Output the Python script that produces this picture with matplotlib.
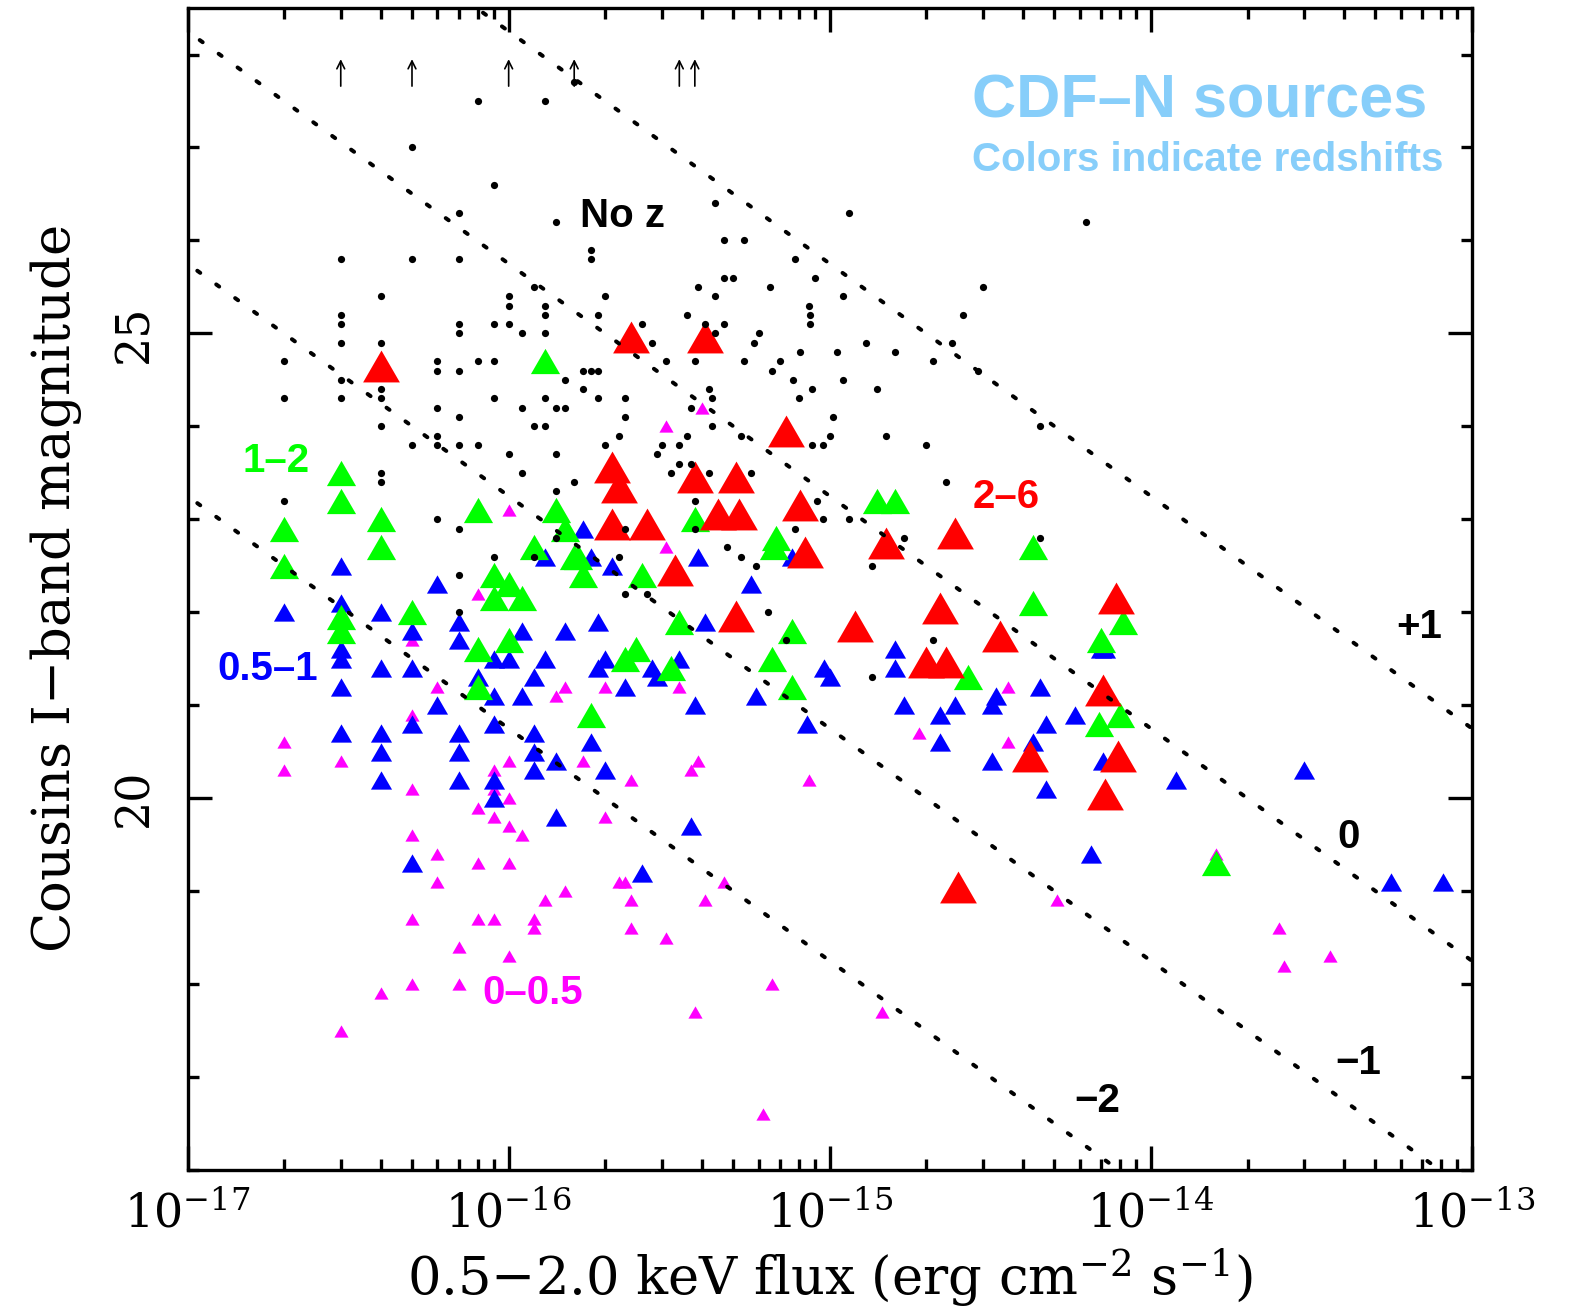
import numpy as np
import matplotlib
matplotlib.use("Agg")
import matplotlib.pyplot as plt
from matplotlib.ticker import FixedLocator, NullFormatter, LogLocator

# ---- data: (0.5-2 keV flux, Cousins I magnitude) ----
dot_flux = [8e-17, 5e-17, 9e-17, 7e-17, 3e-17, 5e-17, 7e-17, 4e-17, 1e-16, 1e-16, 3e-17, 3e-17, 7e-17, 9e-17,
            1e-16, 1.1e-16, 7e-17, 3e-17, 4e-17, 2e-17, 6e-17, 8e-17, 9e-17, 6e-17, 7e-17, 3e-17, 4e-17, 2e-17,
            3e-17, 4e-17, 9e-17,
            1.1e-16, 6e-17, 7e-17, 4e-17, 6e-17, 6e-17, 5e-17, 7e-17, 8e-17, 1e-16, 1.1e-16, 4e-17, 4e-17, 2e-17,
            6e-17, 7e-17, 9e-17, 7e-17, 7e-17,
            1.5e-16, 1.7e-16, 1.9e-16, 2.3e-16, 2.3e-16, 1.3e-16, 1.4e-16, 1.5e-16, 1.2e-16, 1.3e-16, 2.2e-16,
            2e-16, 1.4e-16, 1.6e-16, 1.4e-16,
            4.2e-16, 4.3e-16, 3.7e-16, 4.3e-16, 3.6e-16, 3e-16, 3.4e-16, 2.9e-16, 3.2e-16, 3.4e-16, 3.7e-16,
            4.2e-16, 5.7e-16, 5.3e-16,
            7.7e-16, 8.8e-16, 8e-16, 1.02e-15, 8.8e-16, 9.5e-16, 1e-15, 9.1e-16, 9.5e-16, 7.8e-16, 3.8e-16,
            3.8e-16, 2.3e-16, 1.4e-16, 1.2e-16, 2.2e-16, 4.8e-16, 5.3e-16, 5.9e-16, 2.3e-16, 2.7e-16, 6.4e-16,
            7.3e-16,
            1.3e-16, 1.6e-16, 1.4e-16, 4.4e-16, 4.7e-16, 5.4e-16, 1.8e-16, 1.8e-16, 7.8e-16, 9e-16, 4.7e-16,
            5e-16, 3.9e-16, 6.5e-16, 4.4e-16, 1.2e-16, 2e-16, 1.3e-16, 1.3e-16, 1.9e-16, 3.6e-16, 8.6e-16,
            8.7e-16, 8.7e-16, 1.3e-16, 2.6e-16, 4.7e-16, 4.1e-16, 4.4e-16, 2.8e-16, 6e-16, 5.8e-16, 8.1e-16,
            1.05e-15, 3.1e-16, 3.8e-16, 5.4e-16, 7e-16, 6.6e-16, 1.7e-16, 1.8e-16, 1.9e-16,
            1.15e-15, 6.3e-15, 3e-15, 2.6e-15, 1.1e-15, 1.3e-15, 1.6e-15, 2.4e-15, 2.1e-15, 2.9e-15, 1.1e-15,
            1.4e-15,
            1.5e-15, 2e-15, 4.5e-15, 2.3e-15, 1.15e-15, 1.7e-15, 1.35e-15, 4.5e-15, 2.1e-15, 1.35e-15]
dot_mag = [27.5, 27.0, 26.6, 26.3, 25.8, 25.8, 25.8, 25.4, 25.4, 25.3, 25.2, 25.1, 25.1, 25.1,
           25.1, 25.0, 25.0, 24.9, 24.9, 24.7, 24.7, 24.7, 24.7, 24.6, 24.6, 24.5, 24.4, 24.3,
           24.3, 24.3, 24.3,
           24.2, 24.2, 24.1, 24.0, 23.9, 23.8, 23.8, 23.8, 23.8, 23.7, 23.5, 23.5, 23.4, 23.2,
           23.0, 22.9, 22.6, 22.4, 22.0,
           24.5, 24.4, 24.3, 24.3, 24.1, 24.3, 24.2, 24.2, 24.0, 24.0, 23.9,
           23.8, 23.7, 23.4, 23.3,
           24.4, 24.3, 24.2, 24.0, 23.9, 23.8, 23.8, 23.7, 23.5, 23.6, 23.6,
           23.5, 23.5, 23.9,
           24.5, 24.4, 24.3, 24.1, 23.8, 23.8, 23.9, 23.2, 23.0, 22.9, 23.2,
           22.9, 22.9, 22.8, 22.6, 22.6, 22.7, 22.6, 22.5, 22.2, 22.2, 22.0,
           21.7,
           27.5, 27.7, 26.2, 26.4, 26.0, 26.0, 25.9, 25.8, 25.8, 25.6, 25.6,
           25.6, 25.5, 25.5, 25.4, 25.5, 25.4, 25.3, 25.2, 25.2, 25.2, 25.3,
           25.2, 25.1, 25.0, 25.1, 25.1, 25.1, 25.0, 24.9, 25.0, 24.9, 24.8,
           24.8, 24.7, 24.7, 24.7, 24.7, 24.6, 24.6, 24.6, 24.6,
           26.3, 26.2, 25.5, 25.2, 25.4, 24.9, 24.8, 24.9, 24.7, 24.6, 24.5,
           24.4,
           23.9, 23.8, 24.0, 23.4, 23.0, 22.8, 22.5, 22.8, 21.7, 21.3]

z0_flux = [1e-16, 8e-17, 5e-17, 6e-17, 5e-17, 2e-17, 2e-17, 3e-17, 1e-16, 9e-17,
           5e-17, 9e-17, 1e-16, 8e-17, 9e-17, 1e-16, 1.1e-16, 5e-17, 6e-17, 8e-17, 1e-16, 6e-17, 5e-17, 8e-17,
           9e-17, 7e-17, 1e-16, 5e-17, 7e-17, 4e-17, 3e-17,
           4e-16, 3.1e-16, 3.1e-16, 1.5e-16, 1.4e-16, 2e-16, 3.4e-16, 1.7e-16, 3.9e-16, 3.7e-16, 8.6e-16, 2.4e-16,
           2e-16, 2.2e-16, 2.3e-16, 4.7e-16, 1.5e-16, 1.3e-16, 2.4e-16, 4.1e-16, 1.2e-16, 1.2e-16, 2.4e-16,
           3.1e-16, 6.6e-16, 3.8e-16, 6.2e-16,
           3.6e-15, 1.9e-15, 3.6e-15, 5.1e-15, 1.45e-15, 1.6e-14, 2.5e-14, 2.6e-14, 3.6e-14]
z0_mag = [23.1, 22.2, 21.7, 21.2, 20.9, 20.6, 20.3, 20.4, 20.4, 20.3,
          20.1, 20.1, 20.0, 19.9, 19.8, 19.7, 19.6, 19.6, 19.4, 19.3, 19.3, 19.1, 18.7, 18.7,
          18.7, 18.4, 18.3, 18.0, 18.0, 17.9, 17.5,
          24.2, 24.0, 22.7, 21.2, 21.1, 21.2, 21.2, 20.4, 20.4, 20.3, 20.2, 20.2,
          19.8, 19.1, 19.1, 19.1, 19.0, 18.9, 18.9, 18.9, 18.7, 18.6, 18.6,
          18.5, 18.0, 17.7, 16.6,
          21.2, 20.7, 20.6, 18.9, 17.7, 19.4, 18.6, 18.2, 18.3]

z1_flux = [3e-17, 6e-17, 2e-17, 3e-17, 4e-17, 5e-17, 7e-17, 7e-17, 3e-17, 3e-17, 4e-17, 5e-17, 3e-17,
           9e-17, 1e-16, 6e-17, 8e-17, 9e-17, 1.1e-16, 9e-17, 5e-17, 3e-17, 4e-17, 7e-17, 4e-17, 7e-17,
           4e-17, 7e-17, 9e-17, 9e-17, 5e-17,
           1.7e-16, 1.3e-16, 1.8e-16, 2.1e-16, 3.9e-16, 5.7e-16, 7.6e-16, 1.9e-16, 1.5e-16, 1.1e-16, 4.1e-16,
           1.3e-16, 1.9e-16, 2e-16, 2.8e-16, 2.9e-16, 3.4e-16, 1.2e-16, 2.3e-16, 3.8e-16, 5.9e-16, 9.6e-16,
           1e-15, 8.5e-16, 1.2e-16, 1.2e-16, 1.4e-16, 1.8e-16, 2e-16, 1.2e-16,
           1.4e-16, 3.7e-16, 2.6e-16,
           1.6e-15, 1.6e-15, 1.7e-15, 2.2e-15, 2.45e-15, 3.3e-15, 3.2e-15, 4.5e-15, 5.8e-15, 7e-15, 7.2e-15,
           4.7e-15, 2.2e-15, 4.3e-15, 3.2e-15, 7.1e-15,
           4.7e-15, 6.5e-15, 1.2e-14, 3e-14, 5.6e-14, 8.1e-14]
z1_mag = [22.5, 22.3, 22.0, 22.1, 22.0, 21.8, 21.9, 21.7, 21.6, 21.5, 21.4, 21.4, 21.2,
          21.5, 21.5, 21.0, 21.3, 21.1, 21.1, 20.8, 20.8, 20.7, 20.7, 20.7, 20.5, 20.5,
          20.2, 20.2, 20.2, 20.0, 19.3,
          22.9, 22.6, 22.6, 22.5, 22.6, 22.3, 22.6, 21.9, 21.8, 21.8, 21.9,
          21.5, 21.4, 21.5, 21.4, 21.3, 21.5, 21.3, 21.2, 21.0, 21.1, 21.4,
          21.3, 20.8, 20.7, 20.5, 20.4, 20.6, 20.3, 20.3,
          19.8, 19.7, 19.2,
          21.6, 21.4, 21.0, 20.9, 21.0, 21.1, 21.0, 21.2, 20.9, 21.6, 21.6,
          20.8, 20.6, 20.6, 20.4, 20.4,
          20.1, 19.4, 20.2, 20.3, 19.1, 19.1]

z2_flux = [3e-17, 3e-17, 2e-17, 2e-17, 4e-17, 4e-17, 8e-17, 3e-17, 3e-17, 5e-17, 8e-17, 1e-16, 8e-17,
           9e-17, 1e-16, 9e-17, 1.1e-16, 1.3e-16,
           1.4e-16, 1.5e-16, 1.2e-16, 1.6e-16, 1.65e-16, 1.7e-16, 3.8e-16, 2.6e-16, 6.8e-16, 6.7e-16, 3.4e-16,
           7.6e-16, 2.5e-16, 2.3e-16, 3.2e-16, 6.6e-16, 7.6e-16, 1.8e-16,
           1.4e-15, 1.6e-15, 4.3e-15, 4.3e-15, 8.2e-15, 7e-15, 2.7e-15, 6.9e-15, 8e-15, 1.6e-14]
z2_mag = [23.5, 23.2, 22.9, 22.5, 23.0, 22.7, 23.1, 21.95, 21.8, 22.0, 21.6, 21.7, 21.2,
          22.4, 22.3, 22.15, 22.15, 24.7,
          23.1, 22.9, 22.7, 22.6, 22.6, 22.4, 23.0, 22.4, 22.8, 22.7, 21.9,
          21.8, 21.6, 21.5, 21.4, 21.5, 21.2, 20.9,
          23.2, 23.2, 22.7, 22.1, 21.9, 21.7, 21.3, 20.8, 20.9, 19.3]

z3_flux = [4e-17, 2.4e-16, 4.1e-16, 7.3e-16, 2.1e-16, 2.2e-16, 3.8e-16, 5.1e-16, 8.1e-16, 2.1e-16, 2.7e-16,
           4.5e-16, 5.2e-16, 8.4e-16, 3.3e-16, 5.1e-16, 2.45e-15, 1.5e-15, 2.2e-15, 1.2e-15, 7.8e-15, 3.4e-15,
           2e-15, 2.3e-15, 7.1e-15, 4.2e-15, 7.9e-15, 7.2e-15, 2.5e-15]
z3_mag = [24.65, 24.96, 24.96, 23.95, 23.56, 23.35, 23.45, 23.45, 23.15, 22.95, 22.95,
          23.06, 23.06, 22.65, 22.46, 21.96, 22.85, 22.75, 22.05, 21.85, 22.15, 21.75,
          21.46, 21.46, 21.16, 20.45, 20.45, 20.05, 19.05]

# sources with no optical counterpart (lower limits)
limit_flux = [3e-17, 5e-17, 1e-16, 1.6e-16, 3.4e-16, 3.8e-16]

# constant X-ray-to-optical flux ratio lines
ratios = [1, 0, -1, -2]
ratio_labels = ["+1", "0", "\u22121", "\u22122"]
zp = 5.7

tri = [(-1, -0.866), (1, -0.866), (0, 0.866)]

plt.rcParams["mathtext.fontset"] = "dejavuserif"

fig = plt.figure(figsize=(15.72, 13.16), dpi=100)
ax = fig.add_axes([0.1193, 0.1109, 0.8171, 0.883])

lf = np.linspace(-17.5, -12.5, 50)
for r in ratios:
    ax.plot(10**lf, 2.5 * (r - lf - zp), color="black", lw=2.9,
            linestyle=(0, (0.9, 4.9)), dash_capstyle="round", zorder=5)

ax.plot(z0_flux, z0_mag, linestyle="none", marker=tri, ms=10.2, mew=0, color="magenta", zorder=2)
ax.plot(z1_flux, z1_mag, linestyle="none", marker=tri, ms=15.2, mew=0, color="blue", zorder=3)
ax.plot(z2_flux, z2_mag, linestyle="none", marker=tri, ms=21, mew=0, color="lime", zorder=3.5)
ax.plot(z3_flux, z3_mag, linestyle="none", marker=tri, ms=26.5, mew=0, color="red", zorder=4)
ax.plot(dot_flux, dot_mag, linestyle="none", marker="o", ms=5.2, mew=0, color="black", zorder=6)

for f in limit_flux:
    ax.annotate("", xy=(f, 27.95), xytext=(f, 27.66),
                arrowprops=dict(arrowstyle="->", color="black", lw=1.2, shrinkA=0, shrinkB=0,
                                mutation_scale=14))

ax.set_xscale("log")
ax.set_xlim(1e-17, 1e-13)
ax.set_ylim(16, 28.5)

ax.xaxis.set_major_locator(LogLocator(base=10, numticks=10))
ax.xaxis.set_minor_locator(LogLocator(base=10, subs=np.arange(2, 10), numticks=20))
ax.xaxis.set_minor_formatter(NullFormatter())
ax.yaxis.set_minor_locator(FixedLocator(np.arange(16, 29)))

ax.tick_params(which="both", direction="in", top=True, right=True, width=2.4, labelsize=33)
ax.tick_params(which="major", length=17)
ax.tick_params(axis="x", which="major", pad=16)
ax.tick_params(axis="y", which="major", pad=22)
ax.tick_params(which="minor", length=8)
for s in ax.spines.values():
    s.set_linewidth(2.4)

ax.set_xticks([1e-17, 1e-16, 1e-15, 1e-14, 1e-13])
ax.set_xticklabels([r"$\mathregular{10^{-17}}$", r"$\mathregular{10^{-16}}$", r"$\mathregular{10^{-15}}$",
                    r"$\mathregular{10^{-14}}$", r"$\mathregular{10^{-13}}$"], family="DejaVu Serif")
ax.set_yticks([20, 25])
ax.set_yticklabels(["20", "25"], family="DejaVu Serif", rotation=90, va="center")

ax.set_xlabel(r"0.5$-$2.0 keV flux (erg cm$^{-2}$ s$^{-1}$)", fontsize=38, family="DejaVu Serif", labelpad=6)
ax.set_ylabel(r"Cousins I$-$band magnitude", fontsize=38, family="DejaVu Serif", labelpad=20)

bold = dict(family="Liberation Sans", weight="bold")
ax.text(10**-14.557, 27.49, "CDF\u2013N sources", color="#87cefa", fontsize=44, ha="left", va="center", **bold)
ax.text(10**-14.557, 26.86, "Colors indicate redshifts", color="#87cefa", fontsize=29, ha="left", va="center", **bold)
ax.text(10**-15.645, 26.26, "No z", color="black", fontsize=29, ha="center", va="center", **bold)
ax.text(10**-16.725, 23.63, "1\u20132", color="lime", fontsize=29, ha="center", va="center", **bold)
ax.text(10**-16.75, 21.39, "0.5\u20131", color="blue", fontsize=29, ha="center", va="center", **bold)
ax.text(10**-14.45, 23.24, "2\u20136", color="red", fontsize=29, ha="center", va="center", **bold)
ax.text(10**-15.925, 17.90, "0\u20130.5", color="magenta", fontsize=29, ha="center", va="center", **bold)
for lab, lx, ly in zip(ratio_labels, [-13.165, -13.385, -13.355, -14.168], [21.84, 19.58, 17.15, 16.74]):
    ax.text(10**lx, ly, lab, color="black", fontsize=29, ha="center", va="center", **bold)

fig.savefig("out.png", dpi=100)
